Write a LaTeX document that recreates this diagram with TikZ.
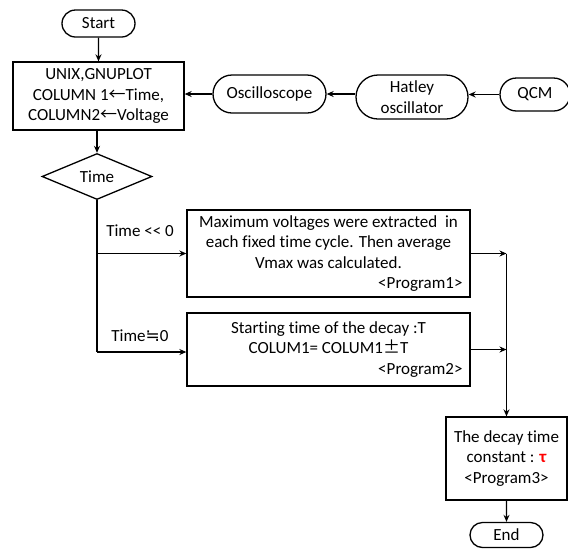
\documentclass[tikz,border=0pt]{standalone}
\usepackage{fontspec}
\setmainfont{Carlito}[Ligatures=NoCommon]
\newfontfamily\symfont{Noto Sans CJK JP}
\newfontfamily\dvfont{DejaVu Sans}
\usetikzlibrary{shapes.misc,shapes.geometric,arrows.meta}
\begin{document}
\begin{tikzpicture}[x=1pt,y=-1pt,
  every node/.style={font=\fontsize{17}{20.5}\selectfont},
  term/.style={draw, line width=1.3pt, rounded rectangle, inner sep=0pt},
  procbox/.style={draw, line width=1.3pt, rectangle, inner sep=0pt, align=center},
  dec/.style={draw, line width=1.3pt, diamond, inner sep=0pt, minimum width=110pt, minimum height=44pt},
  arr/.style={line width=1.3pt, -{Stealth[length=7pt,width=6pt]}},
  ln/.style={line width=1.3pt},
  lbl/.style={inner sep=0pt}
]
\useasboundingbox (0,0) rectangle (568,550);
\clip (0,0) rectangle (568,550);
\fill[white] (0,0) rectangle (568,550);

\node[term, minimum width=73pt, minimum height=27pt] (start) at (98.5,23.5) {Start};
\node[procbox, minimum width=171pt, minimum height=68pt] (unix) at (98.5,96) {UNIX,GNUPLOT\\COLUMN 1{\symfont ←}Time,\\COLUMN2{\symfont ←}Voltage};
\node[term, minimum width=113pt, minimum height=38pt] (osc) at (269.5,94) {Oscilloscope};
\node[term, minimum width=112pt, minimum height=44pt, align=center] (hat) at (412,97) {Hatley\\oscillator};
\node[term, minimum width=70pt, minimum height=33pt] (qcm) at (535,94.5) {QCM};
\node[dec] (time) at (97,176.5) {Time};

\node[draw, line width=1.3pt, inner sep=0pt, minimum width=283pt, minimum height=87pt] (p1) at (328.5,253.5)
  {\parbox{268pt}{\centering Maximum voltages were extracted\ \ in\\each fixed time cycle. Then average\\Vmax was calculated.\\\hspace*{\fill}<Program1>}};
\node[draw, line width=1.3pt, inner sep=0pt, minimum width=283pt, minimum height=73pt] (p2) at (328.5,349.5)
  {\parbox{268pt}{\centering Starting time of the decay :T\\COLUM1= COLUM1{\symfont ±}T\\\hspace*{\fill}<Program2>}};
\node[procbox, minimum width=121pt, minimum height=83pt] (dec) at (506.5,458.5)
  {The decay time\\constant : {\color{red}\bfseries τ}\\<Program3>};
\node[term, minimum width=73pt, minimum height=25pt] (end) at (506.5,535) {End};

\node[lbl] (l1) at (140,231) {Time <\kern0pt< 0};
\node[lbl] (l2) at (140,336) {Time{\dvfont ≒}0};

\coordinate (b2) at (97,352);

\draw[arr] (start) -- (unix.north -| start);
\draw[arr] (osc.west) -- (osc.west -| unix.east);
\draw[arr] (hat.west |- osc) -- (osc.east);
\draw[arr] (qcm.west) -- (qcm.west -| hat.east);
\draw[arr] (unix.south -| time) -- (time.north);
\draw[ln] (time.south) -- (b2);
\draw[arr] (time.south |- p1.west) -- (p1.west);
\draw[arr] (b2) -- (b2 -| p2.west);
\draw[arr] (p1.east) -- (p1.east -| dec.north);
\draw[arr] (p2.east) -- (p2.east -| dec.north);
\draw[arr] (p1.east -| dec.north) -- (dec.north);
\draw[arr] (dec) -- (end);
\end{tikzpicture}
\end{document}
